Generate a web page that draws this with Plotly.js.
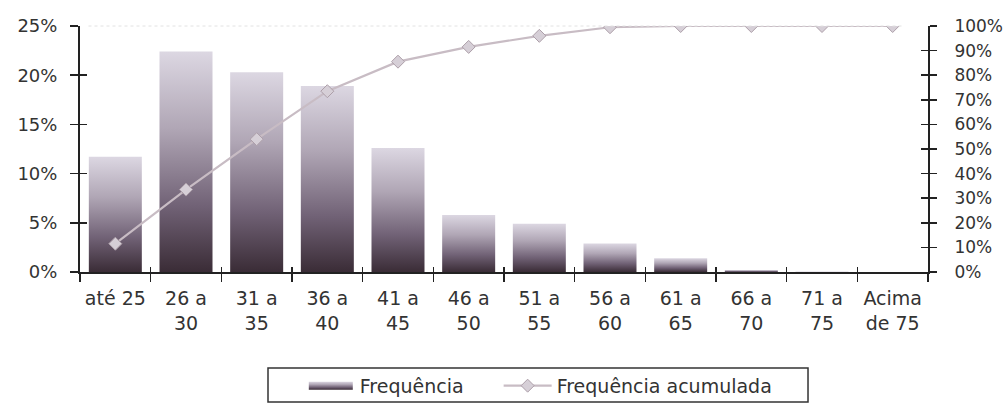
<!DOCTYPE html>
<html>
<head>
<meta charset="utf-8">
<script src="https://cdn.plot.ly/plotly-3.0.1.min.js"></script>
<style>html,body{margin:0;padding:0;background:#fff;}#chart{width:1006px;height:404px;}</style>
</head>
<body>
<div id="chart"></div>
<script>
const categories = ['até 25', '26 a<br>30', '31 a<br>35', '36 a<br>40', '41 a<br>45', '46 a<br>50', '51 a<br>55', '56 a<br>60', '61 a<br>65', '66 a<br>70', '71 a<br>75', 'Acima<br>de 75'];
const frequencia = [11.7, 22.4, 20.3, 18.9, 12.6, 5.8, 4.9, 2.9, 1.4, 0.2, 0.05, 0];
const acumulada = [11.5, 33.5, 54, 73.5, 85.5, 91.5, 96, 99.5, 100, 100, 100, 100];
const leftTicks = [0, 5, 10, 15, 20, 25];
const rightTicks = [0, 10, 20, 30, 40, 50, 60, 70, 80, 90, 100];

const FONT = 'DejaVu Sans, Verdana, sans-serif';
const TXT = '#333';
const AX = '#222';
const boundaries = categories.map((c, i) => i - 0.5).concat([categories.length - 0.5]);

const traces = [
  {
    type: 'bar', name: 'Frequência', x: categories, y: frequencia,
    width: 0.75, marker: {color: '#7a6c7a', line: {width: 0}},
    hoverinfo: 'none'
  },
  {
    type: 'scatter', mode: 'lines+markers', name: 'Frequência acumulada',
    x: categories, y: acumulada, yaxis: 'y2',
    line: {color: '#c8bcc4', width: 2.2},
    marker: {symbol: 'diamond', size: 10, color: '#d6cfd7', line: {color: '#ad9fa9', width: 1}},
    hoverinfo: 'none'
  }
];

const layout = {
  width: 1006, height: 404,
  margin: {l: 80, r: 78, t: 26, b: 132, pad: 0, autoexpand: false},
  paper_bgcolor: '#fff', plot_bgcolor: '#fff',
  font: {family: FONT, size: 18, color: TXT},
  xaxis: {
    type: 'category', range: [-0.5, categories.length - 0.5],
    showline: true, linecolor: AX, linewidth: 2,
    ticks: 'outside', ticklen: 8, tickwidth: 1.5, tickcolor: AX,
    tickson: 'boundaries', tickangle: 0, ticklabelstandoff: 8,
    showgrid: false, zeroline: false, fixedrange: true, automargin: false,
    tickfont: {family: FONT, size: 19, color: TXT}
  },
  xaxis2: {
    overlaying: 'x', type: 'linear', range: [-0.5, categories.length - 0.5],
    tickmode: 'array', tickvals: boundaries, showticklabels: false,
    ticks: 'inside', ticklen: 5, tickwidth: 1.5, tickcolor: AX,
    showline: false, showgrid: false, zeroline: false, fixedrange: true
  },
  yaxis: {
    range: [0, 25], tickvals: leftTicks, ticktext: leftTicks.map(v => v + '%'),
    showline: true, linecolor: AX, linewidth: 2,
    ticks: 'outside', ticklen: 8, tickwidth: 1.5, tickcolor: AX,
    ticklabelstandoff: 9, automargin: false,
    showgrid: false, zeroline: false, fixedrange: true,
    tickfont: {family: FONT, size: 18, color: TXT}
  },
  yaxis3: {
    overlaying: 'y', side: 'left', range: [0, 25], tickvals: leftTicks,
    showticklabels: false, ticks: 'inside', ticklen: 7, tickwidth: 1.5, tickcolor: AX,
    showline: false, showgrid: false, zeroline: false, fixedrange: true
  },
  yaxis2: {
    overlaying: 'y', side: 'right', range: [0, 100], tickvals: rightTicks,
    ticktext: rightTicks.map(v => v + '%'),
    showline: true, linecolor: AX, linewidth: 2,
    ticks: 'outside', ticklen: 7, tickwidth: 1.5, tickcolor: AX,
    ticklabelstandoff: 14, automargin: false,
    showgrid: false, zeroline: false, fixedrange: true,
    tickfont: {family: FONT, size: 17, color: TXT}
  },
  yaxis4: {
    overlaying: 'y', side: 'right', range: [0, 100], tickvals: rightTicks,
    showticklabels: false, ticks: 'inside', ticklen: 7, tickwidth: 1.5, tickcolor: AX,
    showline: false, showgrid: false, zeroline: false, fixedrange: true
  },
  showlegend: true,
  legend: {
    orientation: 'h', xref: 'container', yref: 'container',
    x: 0.300, xanchor: 'left', y: 0.092, yanchor: 'top',
    bgcolor: 'rgba(0,0,0,0)', borderwidth: 0,
    font: {family: FONT, size: 19, color: TXT},
    itemwidth: 48, traceorder: 'normal'
  },
  shapes: [
    {type: 'line', xref: 'paper', yref: 'paper', x0: 0.01, x1: 0.97, y0: 1, y1: 1,
     line: {color: '#e2e2e2', width: 1, dash: 'dot'}},
    {type: 'rect', xref: 'paper', yref: 'paper', x0: 0.2217, x1: 0.8585, y0: -0.39, y1: -0.528,
     line: {color: '#333', width: 1.5}, fillcolor: 'rgba(0,0,0,0)'}
  ]
};

// invisible helper traces that switch on the overlay tick axes
traces.push({type: 'scatter', x: [0], y: [0], xaxis: 'x2', yaxis: 'y3', mode: 'markers',
  marker: {opacity: 0}, showlegend: false, hoverinfo: 'none'});
traces.push({type: 'scatter', x: [0], y: [0], xaxis: 'x2', yaxis: 'y4', mode: 'markers',
  marker: {opacity: 0}, showlegend: false, hoverinfo: 'none'});

Plotly.newPlot('chart', traces, layout, {staticPlot: true, displayModeBar: false}).then(function (gd) {
  const svgNS = 'http://www.w3.org/2000/svg';
  const svg = gd.querySelector('.main-svg');
  const defs = document.createElementNS(svgNS, 'defs');
  const grad = document.createElementNS(svgNS, 'linearGradient');
  grad.setAttribute('id', 'barGrad');
  grad.setAttribute('x1', '0'); grad.setAttribute('y1', '0');
  grad.setAttribute('x2', '0'); grad.setAttribute('y2', '1');
  [['0', '#dcd7e2'], ['0.35', '#b0a6b5'], ['0.7', '#716276'], ['1', '#3a2c36']].forEach(function (s) {
    const st = document.createElementNS(svgNS, 'stop');
    st.setAttribute('offset', s[0]);
    st.setAttribute('stop-color', s[1]);
    grad.appendChild(st);
  });
  defs.appendChild(grad);
  svg.insertBefore(defs, svg.firstChild);
  gd.querySelectorAll('.barlayer .trace.bars .point path').forEach(function (p) {
    p.style.fill = 'url(#barGrad)';
  });
  gd.querySelectorAll('.legend [clip-path]').forEach(function (el) { el.removeAttribute('clip-path'); });
  const legTraces = gd.querySelectorAll('.legend .traces');
  if (legTraces.length) {
    const lp = legTraces[0].querySelector('.legendpoints path');
    if (lp) {
      lp.setAttribute('d', 'M22,4H-22V-4H22Z');
      lp.style.fill = 'url(#barGrad)';
      lp.style.stroke = 'none';
    }
  }
  if (legTraces.length > 1) {
    const t = legTraces[1];
    const m = /translate\(\s*([-\d.]+)[ ,]+([-\d.]+)\s*\)/.exec(t.getAttribute('transform') || '');
    if (m) t.setAttribute('transform', 'translate(' + (parseFloat(m[1]) + 30) + ',' + m[2] + ')');
  }
});
</script>
</body>
</html>
